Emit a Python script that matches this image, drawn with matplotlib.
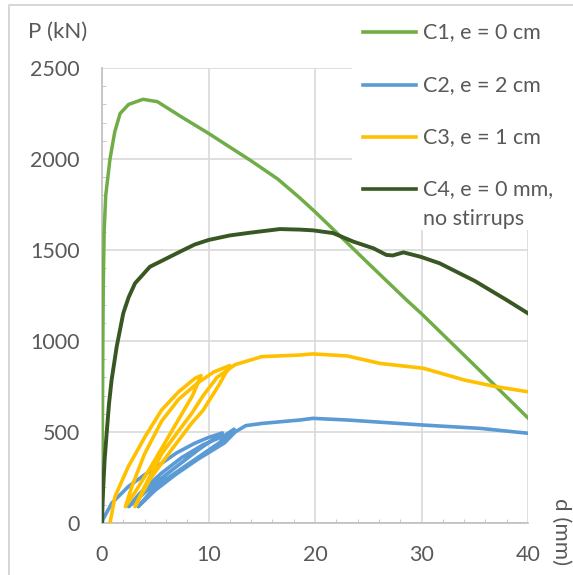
import matplotlib
matplotlib.use('Agg')
import matplotlib.pyplot as plt
from matplotlib.lines import Line2D
from matplotlib.patches import Rectangle
from matplotlib.ticker import MultipleLocator

plt.rcParams['font.family'] = ['Lato', 'DejaVu Sans']

# --- data: d (mm), P (kN) ---
c1_d = [0, 0.03, 0.08, 0.12, 0.2, 0.35, 0.75, 1.2, 1.7, 2.5, 3.85, 5.2, 7.5, 10, 14, 16.5, 18.5,
        20, 22.8, 25, 28.6, 30, 35, 40]
c1_p = [0, 400, 1000, 1300, 1600, 1800, 2000, 2150, 2250, 2300, 2328, 2315, 2230, 2141, 1990, 1890, 1790,
        1710, 1552, 1427, 1225, 1150, 865, 577]

c2_d = [0, 0.1, 0.9, 2.47, 4, 5.6, 7, 8.7, 10, 11.3,
        9, 7, 5, 3.5, 2.5,
        3.5, 5.5, 7.5, 9.5, 11.5, 12.4,
        11, 9, 7, 5, 3.4,
        5, 7, 9, 11.5, 12.5, 13.5, 15, 18.6, 19.8, 23, 30.2, 35.5, 40]
c2_p = [0, 20, 108, 200, 265, 328, 385, 438, 470, 495,
        400, 310, 220, 140, 90,
        160, 270, 360, 430, 480, 515,
        440, 360, 280, 200, 90,
        180, 270, 350, 440, 500, 535, 547, 566, 575, 566, 538, 520, 493]

c3_d = [0.75, 1.22, 2.47, 4.04, 5.6, 7.2, 8.73, 9.3,
        8.5, 6.5, 4.5, 3, 2.2,
        2.8, 4, 5.6, 7.2, 9, 10.5, 12,
        11, 9.5, 8.4, 6.5, 4.5, 3.1,
        4, 5.6, 7.5, 8.4, 9.5, 10.8, 12.5, 15, 18.6, 19.8, 23, 26.1, 30.2, 34, 37, 40]
c3_p = [0, 145, 310, 474, 621, 721, 795, 810,
        700, 500, 300, 160, 90,
        200, 380, 560, 680, 770, 830, 865,
        760, 620, 547, 400, 240, 90,
        200, 380, 530, 600, 700, 800, 870, 914, 923, 929, 918, 877, 850, 786, 749, 721]

c4_d = [0, 0.05, 0.12, 0.25, 0.44, 0.65, 0.9, 1.38, 2.0, 2.5, 3.1, 4.5, 5.6, 7.3, 8.7, 10, 12,
        13.9, 16.7, 18.6, 19.8, 21.7, 23.6, 25.5, 26.7, 27.3, 28.3, 29.9, 31.7, 35, 38, 40]
c4_p = [0, 100, 200, 350, 494, 650, 785, 969, 1153, 1240, 1317, 1408, 1440, 1490, 1530, 1555, 1580,
        1595, 1615, 1612, 1608, 1593, 1546, 1509, 1473, 1470, 1487, 1463, 1427, 1330, 1225, 1152]

labels = ['C1, e = 0 cm', 'C2, e = 2 cm', 'C3, e = 1 cm', 'C4, e = 0 mm,']
colors = ['#70AD47', '#5B9BD5', '#FFC000', '#385723']
widths = [2.5, 2.6, 2.6, 2.8]

txt = '#595959'
fs = 15.5
W, H = 573, 575
fig = plt.figure(figsize=(W / 100, H / 100), dpi=100)
ax = fig.add_axes([102 / W, 1 - 523 / H, (528 - 102) / W, (523 - 68) / H])

for dd, pp, c, lw in zip([c1_d, c2_d, c3_d, c4_d], [c1_p, c2_p, c3_p, c4_p], colors, widths):
    ax.plot(dd, pp, color=c, lw=lw, solid_joinstyle='round', zorder=3)

ax.set_xlim(0, 40)
ax.set_ylim(0, 2500)
ax.xaxis.set_major_locator(MultipleLocator(10))
ax.yaxis.set_major_locator(MultipleLocator(500))
ax.xaxis.set_minor_locator(MultipleLocator(2))
ax.yaxis.set_minor_locator(MultipleLocator(100))
ax.grid(True, which='major', color='#D9D9D9', lw=1.2)
ax.set_axisbelow(True)
for s in ['top', 'right']:
    ax.spines[s].set_visible(False)
for s in ['left', 'bottom']:
    ax.spines[s].set_color('#BFBFBF')
    ax.spines[s].set_linewidth(1.2)
ax.tick_params(which='major', length=0, labelsize=fs, labelcolor=txt)
ax.tick_params(axis='y', which='major', pad=16)
ax.tick_params(axis='x', which='major', pad=16)
ax.tick_params(which='minor', direction='in', length=3, color='#BFBFBF')

# axis titles
fig.text(28 / W, 1 - 32 / H, 'P (kN)', fontsize=fs + 0.5, color=txt, ha='left', va='center')
fig.text(561 / W, 1 - 532 / H, 'd (mm)', fontsize=fs + 0.5, color=txt, ha='center', va='center', rotation=270)

# legend drawn by hand over the upper right of the plot
fig.patches.append(Rectangle((352 / W, 1 - 230 / H), (568 - 352) / W, 225 / H,
                             transform=fig.transFigure, facecolor='white', edgecolor='none', zorder=1))
leg_y = [32, 85, 137, 189]
for lab, c, y in zip(labels, colors, leg_y):
    fig.add_artist(Line2D([363 / W, 416 / W], [1 - y / H, 1 - y / H], color=c, lw=2.6,
                          transform=fig.transFigure))
    fig.text(423 / W, 1 - y / H, lab, fontsize=fs, color=txt, ha='left', va='center')
fig.text(423 / W, 1 - 219 / H, 'no stirrups', fontsize=fs, color=txt, ha='left', va='center')

# outer chart border (only left and top edges visible)
fig.add_artist(Line2D([8.5 / W, 8.5 / W, 1], [0, 1 - 5 / H, 1 - 5 / H], color='#D0D0D0', lw=1.2,
                      transform=fig.transFigure))

fig.savefig('out.png', dpi=100)
